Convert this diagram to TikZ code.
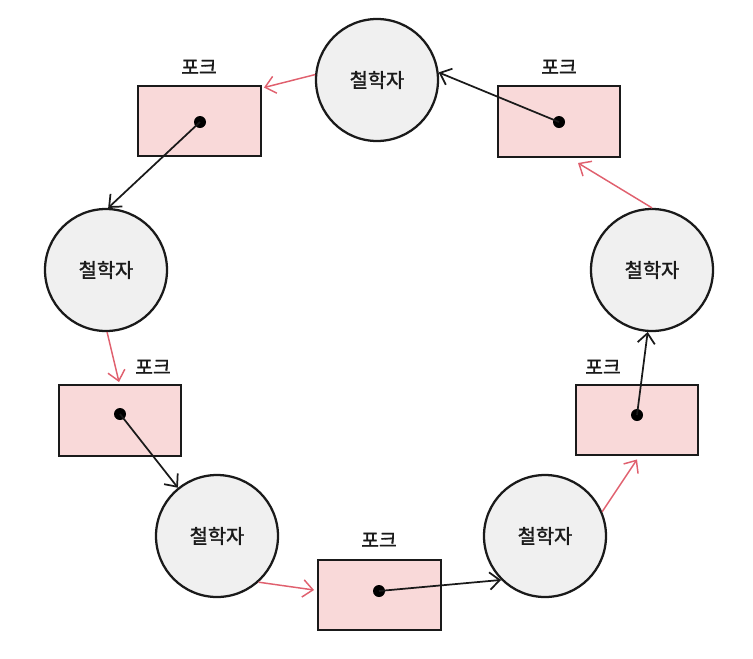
\documentclass[tikz,border=0pt]{standalone}
\usepackage{fontspec}
\setmainfont{Noto Sans CJK KR}
\newfontfamily\medfont[FakeBold=1.6]{Noto Sans CJK KR}
\usetikzlibrary{arrows.meta,calc}
\definecolor{forkfill}{HTML}{F9D9D9}
\definecolor{philfill}{HTML}{F0F0F0}
\definecolor{redarrow}{HTML}{E0606E}
\definecolor{inkc}{HTML}{1A1A1A}
\begin{document}
\begin{tikzpicture}[x=0.75pt,y=-0.75pt,
  phil/.style={circle,draw=inkc,line width=1.7pt,fill=philfill,minimum size=91.5pt,inner sep=0pt,text=inkc,font=\medfont\fontsize{14.8}{17}\selectfont},
  fork/.style={rectangle,draw=inkc,line width=1.7pt,fill=forkfill,minimum width=92pt,minimum height=53pt,inner sep=0pt},
  forklabel/.style={font=\medfont\fontsize{14.5}{17}\selectfont,text=inkc,inner sep=0pt},
  dot/.style={circle,fill=black,minimum size=9pt,inner sep=0pt},
  hold/.style={draw=inkc,line width=1.3pt,-{Straight Barb[length=7.5pt,width=13pt,line width=1.3pt]}},
  want/.style={draw=redarrow,line width=1.1pt,-{Straight Barb[length=7.5pt,width=13pt,line width=1.1pt]}}]
\useasboundingbox (0,0) rectangle (753,658);
% philosophers
\node[phil] (p1) at (377,80) {철학자};
\node[phil] (p2) at (106,270) {철학자};
\node[phil] (p3) at (217,536) {철학자};
\node[phil] (p4) at (545,536) {철학자};
\node[phil] (p5) at (652,270) {철학자};
% forks
\node[fork] (f1) at (199.5,121) {};
\node[fork] (f2) at (559,121.5) {};
\node[fork] (f3) at (120,420.5) {};
\node[fork] (f4) at (379.5,595) {};
\node[fork] (f5) at (637,420) {};
% labels
\node[forklabel] (l1) at (199,67) {포크};
\node[forklabel] (l2) at (559,67) {포크};
\node[forklabel] (l3) at (153,367) {포크};
\node[forklabel] (l4) at (379,540) {포크};
\node[forklabel] (l5) at (603,367) {포크};
% dots
\node[dot] (d1) at (200,122) {};
\node[dot] (d2) at (559,122) {};
\node[dot] (d3) at (120,414) {};
\node[dot] (d4) at (379,591) {};
\node[dot] (d5) at (637,415) {};
% held forks (black)
\draw[hold] (d1.center) -- (p2.88);
\draw[hold] (d2.center) -- (p1.7);
\draw[hold] (d3.center) -- (p3.129);
\draw[hold] (d4.center) -- (p4.225);
\draw[hold] (d5.center) -- (p5.266);
% wanted forks (red)
\draw[want] (p1.175) -- ($(f1.north east)+(2,3)$);
\draw[want] (p2.271) -- ($(f3.north)+(-1,-2)$);
\draw[want] (p3.312) -- ($(f4.west)+(-3,-5)$);
\draw[want] (p4.23) -- ($(f5.south)+(0,3)$);
\draw[want] (p5.90) -- ($(f2.south)+(19,5)$);
\end{tikzpicture}
\end{document}
